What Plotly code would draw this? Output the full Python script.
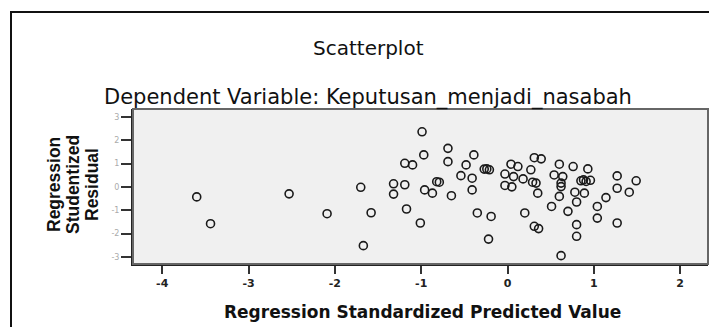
import plotly.graph_objects as go

# Regression standardized predicted value (x) vs studentized residual (y)
pred = [-3.60, -3.44, -2.53, -2.09, -1.70, -1.58, -1.67, -0.99, -0.97, -1.19,
        -1.10, -0.69, -0.69, -0.39, -0.48, -0.27, -0.24, -0.21, -0.54, -0.41,
        -0.41, -1.32, -1.19, -1.32, -0.79, -0.82, -0.96, -0.87, -0.65, -1.17,
        -1.01, -0.35, -0.19, -0.22, 0.04, 0.12, -0.03, 0.07, 0.18, 0.27,
        0.31, 0.39, 0.29, -0.03, 0.05, 0.35, 0.60, 0.76, 0.54, 0.64,
        0.93, 0.85, 0.91, 0.96, 0.88, 0.62, 0.78, 0.60, 0.89, 0.80,
        0.51, 0.70, 0.20, 0.31, 0.36, 0.80, 0.80, 0.62, 1.27, 1.49,
        1.27, 1.41, 1.14, 1.04, 1.04, 1.27, 0.33, 0.62]
resid = [-0.43, -1.58, -0.30, -1.15, -0.02, -1.11, -2.52, 2.36, 1.37, 1.01,
         0.94, 1.65, 1.08, 1.37, 0.94, 0.76, 0.77, 0.73, 0.48, 0.37,
         -0.13, 0.13, 0.09, -0.31, 0.20, 0.22, -0.13, -0.27, -0.38, -0.95,
         -1.55, -1.12, -1.27, -2.24, 0.97, 0.87, 0.55, 0.44, 0.34, 0.73,
         1.25, 1.20, 0.20, 0.06, 0.00, -0.27, 0.97, 0.87, 0.51, 0.44,
         0.77, 0.26, 0.23, 0.28, 0.30, 0.01, -0.23, -0.41, -0.27, -0.65,
         -0.84, -1.05, -1.12, -1.69, -1.79, -1.62, -2.12, -2.95, 0.47, 0.26,
         -0.06, -0.23, -0.46, -0.84, -1.34, -1.55, 0.16, 0.16]

x_ticks = [-4, -3, -2, -1, 0, 1, 2]
x_tick_labels = ["-4", "-3", "-2", "-1", "0", "1", "2"]
y_ticks = [3, 2, 1, 0, -1, -2, -3]
y_tick_labels = ["3", "2", "1", "0", "-1", "-2", "-3"]

title_text = "Scatterplot"
subtitle_text = "Dependent Variable: Keputusan_menjadi_nasabah"
x_title = "Regression Standardized Predicted Value"
y_title_lines = ["Regression", "Studentized", "Residual"]

fig = go.Figure()
fig.add_trace(go.Scatter(
    x=pred, y=resid, mode="markers",
    marker=dict(symbol="circle-open", size=8, color="#1a1a1a", line=dict(width=1.6)),
    hoverinfo="skip", showlegend=False,
))

L, R, T, B = 133, 1, 109, 63
W, H = 709, 327
pw, ph = W - L - R, H - T - B

def px(xp):
    return (xp - L) / pw

def py(yp):
    return (H - B - yp) / ph

fig.update_layout(
    width=W, height=H,
    margin=dict(l=L, r=R, t=T, b=B, pad=0),
    paper_bgcolor="white",
    plot_bgcolor="#f0f0f0",
    font=dict(family="DejaVu Sans", color="#111"),
    xaxis=dict(
        range=[-4.338, 2.322], tickvals=x_ticks, ticktext=x_tick_labels,
        showgrid=False, zeroline=False,
        showline=True, linecolor="#222", linewidth=2,
        ticks="outside", ticklen=8, tickwidth=2, tickcolor="#333",
        tickfont=dict(family="DejaVu Sans", size=11, color="#222", weight="bold"),
    ),
    yaxis=dict(
        range=[-3.307, 3.337], tickvals=y_ticks, ticktext=y_tick_labels,
        showgrid=False, zeroline=False,
        showline=True, linecolor="#222", linewidth=2,
        ticks="outside", ticklen=10, tickwidth=2, tickcolor="#333",
        tickfont=dict(family="DejaVu Sans", size=8, color="#aaaaaa"),
    ),
)

# plot frame (top / right)
fig.add_shape(type="rect", xref="paper", yref="paper", x0=0, x1=1, y0=0, y1=1,
              line=dict(color="#666", width=2), layer="above")
# outer chart frame
fig.add_shape(type="rect", xref="paper", yref="paper",
              x0=px(11), x1=px(760), y0=py(380), y1=py(12),
              line=dict(color="#111", width=2), layer="above")

fig.add_annotation(text=title_text, xref="paper", yref="paper", x=px(368), y=py(48),
                   showarrow=False, xanchor="center", yanchor="middle",
                   font=dict(family="DejaVu Sans", size=20, color="#111"))
fig.add_annotation(text=subtitle_text, xref="paper", yref="paper", x=px(368), y=py(97),
                   showarrow=False, xanchor="center", yanchor="middle",
                   font=dict(family="DejaVu Sans", size=21, color="#111"))
fig.add_annotation(text=x_title, xref="paper", yref="paper", x=px(422), y=py(312),
                   showarrow=False, xanchor="center", yanchor="middle",
                   font=dict(family="DejaVu Sans", size=17, color="#111", weight="bold"))
for xp, line in zip([54, 73, 92], y_title_lines):
    fig.add_annotation(text=line, xref="paper", yref="paper", x=px(xp), y=py(185),
                       showarrow=False, xanchor="center", yanchor="middle", textangle=-90,
                       font=dict(family="Liberation Sans", size=17.5, color="#111", weight="bold"))

fig.write_html("out.html", config={"displayModeBar": False},
               post_script="document.body.style.margin='0';document.body.style.overflow='hidden';")
